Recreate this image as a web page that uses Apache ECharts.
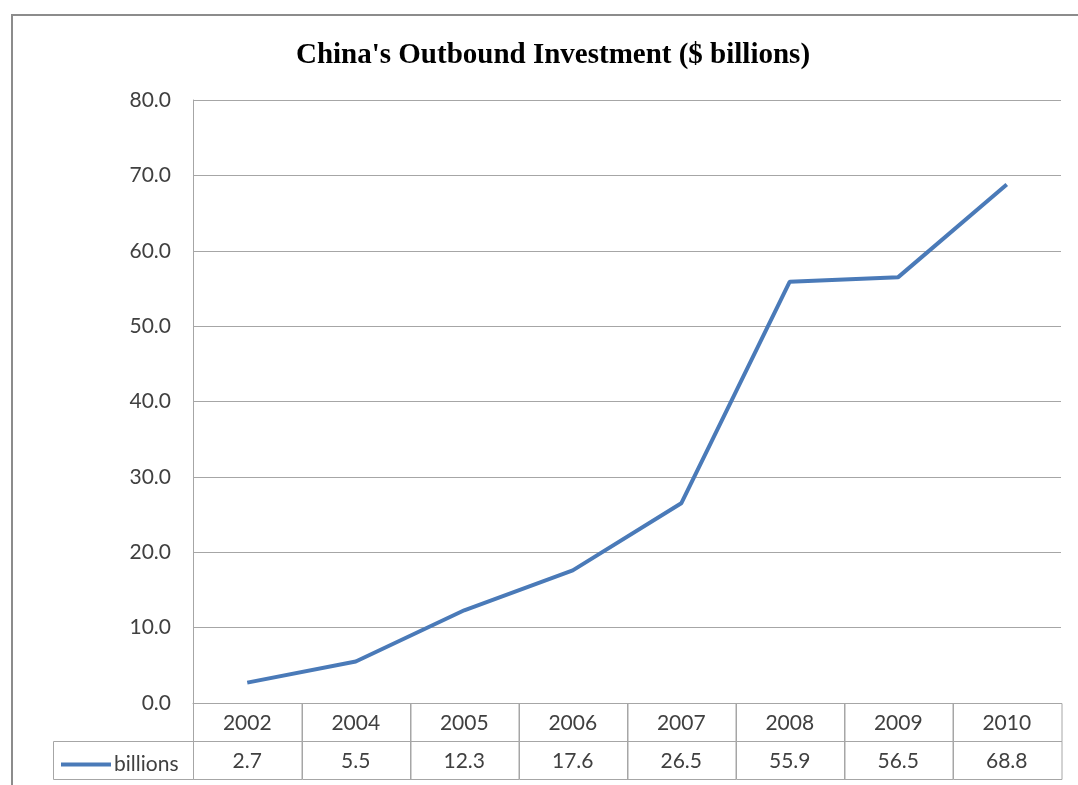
<!DOCTYPE html>
<html>
<head>
<meta charset="utf-8">
<script src="https://cdn.jsdelivr.net/npm/echarts@6/dist/echarts.min.js"></script>
<style>
html,body{margin:0;padding:0;background:#fff;}
#chart{width:1078px;height:785px;}
</style>
</head>
<body>
<div id="chart"></div>
<script>
var years = ['2002','2004','2005','2006','2007','2008','2009','2010'];
var billions = [2.7, 5.5, 12.3, 17.6, 26.5, 55.9, 56.5, 68.8];
var yTicks = [0, 10, 20, 30, 40, 50, 60, 70, 80];

var gridColor = '#a6a6a6';
var textColor = '#404040';
var lineColor = '#4a7ab8';
var font = 'Lato, "Open Sans", sans-serif';

var tableData = [];
years.forEach(function (y, i) { tableData.push([i, 0, y]); });
billions.forEach(function (v, i) { tableData.push([i, 1, v.toFixed(1)]); });

var chart = echarts.init(document.getElementById('chart'));
chart.setOption({
  animation: false,
  backgroundColor: '#fff',
  title: {
    text: "China's Outbound Investment ($ billions)",
    left: 548, top: 36, textAlign: 'center',
    textStyle: { fontFamily: '"Liberation Serif", serif', fontWeight: 'bold', fontSize: 29, color: '#000' }
  },
  legend: {
    left: 56, top: 749,
    itemWidth: 50, itemHeight: 4, itemGap: 4,
    icon: 'rect',
    data: [{ name: 'billions' }],
    textStyle: { fontFamily: font, fontSize: 21, color: textColor, padding: [0, 0, 0, -2] }
  },
  grid: [
    { left: 193, right: 17, top: 100, height: 603 },
    { left: 193, right: 17, top: 703, height: 76 }
  ],
  xAxis: [
    { type: 'category', gridIndex: 0, data: years, boundaryGap: true,
      axisLine: { show: true, lineStyle: { color: gridColor, width: 1 } },
      axisTick: { show: false }, axisLabel: { show: false }, splitLine: { show: false } },
    { type: 'category', gridIndex: 1, data: years, boundaryGap: true,
      axisLine: { show: false }, axisTick: { show: false }, axisLabel: { show: false }, splitLine: { show: false } }
  ],
  yAxis: [
    { type: 'value', gridIndex: 0, min: 0, max: 80, interval: 10,
      axisLine: { show: true, lineStyle: { color: gridColor, width: 1 } },
      axisTick: { show: false },
      axisLabel: { margin: 22, fontFamily: font, fontSize: 21, color: textColor,
        formatter: function (v) { return v.toFixed(1); } },
      splitLine: { show: true, lineStyle: { color: gridColor, width: 1 } } },
    { type: 'category', gridIndex: 1, data: ['0', '1'], inverse: true,
      axisLine: { show: false }, axisTick: { show: false }, axisLabel: { show: false }, splitLine: { show: false } }
  ],
  graphic: [
    { type: 'polyline', silent: true, shape: { points: [[12, 785], [12, 15], [1078, 15]] },
      style: { stroke: '#8c8c8c', lineWidth: 2, fill: null } },
    { type: 'rect', silent: true, shape: { x: 53.5, y: 741.5, width: 140, height: 38 },
      style: { stroke: gridColor, lineWidth: 1, fill: null }, z: 1 }
  ],
  series: [
    { name: 'billions', type: 'line', xAxisIndex: 0, yAxisIndex: 0, data: billions,
      showSymbol: false, symbol: 'none',
      lineStyle: { color: lineColor, width: 4 }, itemStyle: { color: lineColor } },
    { name: 'table', type: 'custom', xAxisIndex: 1, yAxisIndex: 1, data: tableData,
      encode: { x: 0, y: 1 },
      renderItem: function (params, api) {
        var c = api.coord([api.value(0), api.value(1)]);
        var s = api.size([1, 1]);
        var txt = tableData[params.dataIndex][2];
        return {
          type: 'group',
          children: [
            { type: 'rect', shape: { x: Math.round(c[0] - s[0] / 2) + 0.5, y: Math.round(c[1] - s[1] / 2) + 0.5, width: s[0], height: s[1] },
              style: { stroke: gridColor, lineWidth: 1, fill: null } },
            { type: 'text', x: c[0], y: c[1] + 1,
              style: { text: txt, align: 'center', verticalAlign: 'middle', font: '21px ' + font, fill: textColor } }
          ]
        };
      } }
  ]
});
</script>
</body>
</html>
